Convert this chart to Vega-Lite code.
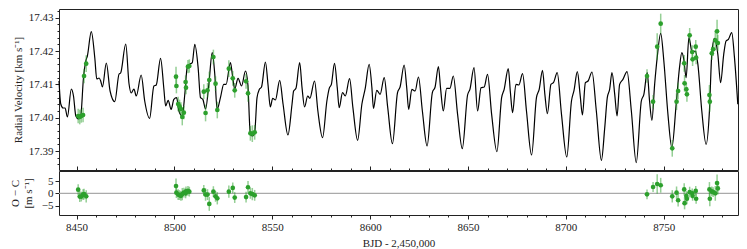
{
"$schema": "https://vega.github.io/schema/vega-lite/v6.json",
"background": "white",
"padding": {"left": 8, "top": 8, "right": 8, "bottom": 4},
"spacing": -3,
"config": {"font": "Liberation Serif", "view": {"stroke": "#222", "strokeWidth": 1},
  "axis": {"labelFont": "Liberation Serif", "titleFont": "Liberation Serif", "labelFontSize": 11, "titleFontSize": 11, "titleFontWeight": "normal", "labelColor": "#222", "titleColor": "#222", "tickColor": "#222", "domain": false, "grid": false}},
"datasets": {
"model": [
{"t":8441.0,"v":17.4110},{"t":8441.9,"v":17.4041},{"t":8443.1,"v":17.4029},{"t":8444.1,"v":17.4029},{"t":8445.3,"v":17.4002},{"t":8447.3,"v":17.4086},{"t":8448.4,"v":17.4065},{"t":8449.6,"v":17.4005},{"t":8450.9,"v":17.3996},{"t":8452.1,"v":17.4005},{"t":8453.5,"v":17.4119},{"t":8454.7,"v":17.4170},{"t":8455.5,"v":17.4185},{"t":8457.5,"v":17.4258},{"t":8459.3,"v":17.4179},{"t":8460.3,"v":17.4116},{"t":8461.5,"v":17.4119},{"t":8462.3,"v":17.4110},{"t":8463.2,"v":17.4092},{"t":8465.2,"v":17.4164},{"t":8467.1,"v":17.4080},{"t":8469.5,"v":17.4048},{"t":8471.7,"v":17.4131},{"t":8472.5,"v":17.4134},{"t":8475.1,"v":17.4221},{"t":8476.8,"v":17.4101},{"t":8477.9,"v":17.4074},{"t":8479.3,"v":17.4086},{"t":8480.5,"v":17.4065},{"t":8483.0,"v":17.4128},{"t":8484.8,"v":17.4050},{"t":8487.3,"v":17.3998},{"t":8489.5,"v":17.4095},{"t":8490.7,"v":17.4098},{"t":8492.9,"v":17.4178},{"t":8494.6,"v":17.4086},{"t":8495.5,"v":17.4035},{"t":8496.8,"v":17.4052},{"t":8498.3,"v":17.4025},{"t":8499.7,"v":17.4055},{"t":8501.1,"v":17.4060},{"t":8502.3,"v":17.4020},{"t":8504.0,"v":17.4005},{"t":8505.3,"v":17.4071},{"t":8506.5,"v":17.4150},{"t":8507.7,"v":17.4160},{"t":8509.1,"v":17.4165},{"t":8510.4,"v":17.4220},{"t":8512.1,"v":17.4150},{"t":8513.3,"v":17.4060},{"t":8514.5,"v":17.4055},{"t":8515.9,"v":17.4026},{"t":8517.6,"v":17.4101},{"t":8519.3,"v":17.4195},{"t":8520.6,"v":17.4131},{"t":8521.8,"v":17.4025},{"t":8523.5,"v":17.4060},{"t":8525.2,"v":17.4100},{"t":8526.4,"v":17.4100},{"t":8528.6,"v":17.4165},{"t":8529.8,"v":17.4120},{"t":8530.8,"v":17.4086},{"t":8532.5,"v":17.4118},{"t":8534.3,"v":17.4095},{"t":8536.3,"v":17.4140},{"t":8537.5,"v":17.4101},{"t":8538.8,"v":17.3950},{"t":8540.0,"v":17.3945},{"t":8541.0,"v":17.3955},{"t":8542.2,"v":17.4060},{"t":8543.4,"v":17.4085},{"t":8544.5,"v":17.4092},{"t":8546.5,"v":17.4167},{"t":8547.8,"v":17.4100},{"t":8549.0,"v":17.4032},{"t":8550.2,"v":17.4058},{"t":8551.6,"v":17.4053},{"t":8553.8,"v":17.4112},{"t":8555.5,"v":17.4041},{"t":8558.0,"v":17.3948},{"t":8560.1,"v":17.4041},{"t":8560.9,"v":17.4080},{"t":8562.1,"v":17.4088},{"t":8564.0,"v":17.4165},{"t":8565.2,"v":17.4090},{"t":8566.5,"v":17.4032},{"t":8568.1,"v":17.4065},{"t":8569.2,"v":17.4058},{"t":8571.6,"v":17.4110},{"t":8573.3,"v":17.4020},{"t":8575.7,"v":17.3940},{"t":8577.9,"v":17.4050},{"t":8579.1,"v":17.4088},{"t":8580.2,"v":17.4100},{"t":8581.8,"v":17.4163},{"t":8583.2,"v":17.4090},{"t":8584.2,"v":17.4030},{"t":8585.9,"v":17.4075},{"t":8587.3,"v":17.4065},{"t":8589.5,"v":17.4117},{"t":8591.2,"v":17.4030},{"t":8593.6,"v":17.3932},{"t":8595.8,"v":17.4041},{"t":8597.5,"v":17.4088},{"t":8599.5,"v":17.4160},{"t":8600.9,"v":17.4090},{"t":8601.7,"v":17.4028},{"t":8603.4,"v":17.4082},{"t":8605.1,"v":17.4070},{"t":8607.2,"v":17.4120},{"t":8609.0,"v":17.4030},{"t":8611.4,"v":17.3922},{"t":8614.0,"v":17.4075},{"t":8615.3,"v":17.4092},{"t":8617.4,"v":17.4158},{"t":8618.7,"v":17.4090},{"t":8619.7,"v":17.4025},{"t":8621.3,"v":17.4085},{"t":8623.0,"v":17.4080},{"t":8624.7,"v":17.4122},{"t":8626.7,"v":17.4020},{"t":8629.1,"v":17.3915},{"t":8631.8,"v":17.4075},{"t":8633.2,"v":17.4092},{"t":8634.9,"v":17.4153},{"t":8636.0,"v":17.4088},{"t":8637.4,"v":17.4020},{"t":8639.1,"v":17.4088},{"t":8640.8,"v":17.4088},{"t":8642.5,"v":17.4125},{"t":8644.7,"v":17.4010},{"t":8647.1,"v":17.3907},{"t":8649.8,"v":17.4068},{"t":8651.0,"v":17.4085},{"t":8653.1,"v":17.4150},{"t":8654.9,"v":17.4020},{"t":8656.7,"v":17.4090},{"t":8658.3,"v":17.4092},{"t":8660.0,"v":17.4130},{"t":8662.1,"v":17.4010},{"t":8664.8,"v":17.3898},{"t":8667.2,"v":17.4060},{"t":8668.5,"v":17.4085},{"t":8670.6,"v":17.4147},{"t":8671.7,"v":17.4075},{"t":8672.8,"v":17.4015},{"t":8674.5,"v":17.4100},{"t":8676.0,"v":17.4098},{"t":8677.9,"v":17.4132},{"t":8679.9,"v":17.4020},{"t":8682.5,"v":17.3888},{"t":8685.0,"v":17.4060},{"t":8686.4,"v":17.4085},{"t":8688.1,"v":17.4142},{"t":8689.3,"v":17.4070},{"t":8690.6,"v":17.4012},{"t":8692.4,"v":17.4100},{"t":8693.7,"v":17.4105},{"t":8695.6,"v":17.4135},{"t":8697.8,"v":17.4010},{"t":8700.5,"v":17.3882},{"t":8702.9,"v":17.4050},{"t":8704.2,"v":17.4082},{"t":8705.9,"v":17.4138},{"t":8707.3,"v":17.4070},{"t":8708.5,"v":17.4008},{"t":8710.0,"v":17.4105},{"t":8711.4,"v":17.4110},{"t":8713.4,"v":17.4137},{"t":8715.6,"v":17.4020},{"t":8718.2,"v":17.3872},{"t":8719.9,"v":17.3970},{"t":8721.2,"v":17.4060},{"t":8722.4,"v":17.4085},{"t":8723.6,"v":17.4135},{"t":8725.0,"v":17.4070},{"t":8726.2,"v":17.4005},{"t":8727.5,"v":17.4100},{"t":8729.2,"v":17.4115},{"t":8731.3,"v":17.4138},{"t":8733.5,"v":17.4020},{"t":8736.0,"v":17.3865},{"t":8738.6,"v":17.4050},{"t":8739.9,"v":17.4070},{"t":8741.6,"v":17.4135},{"t":8742.8,"v":17.4050},{"t":8744.0,"v":17.3992},{"t":8745.4,"v":17.4100},{"t":8746.7,"v":17.4180},{"t":8748.5,"v":17.4253},{"t":8750.1,"v":17.4170},{"t":8752.2,"v":17.4010},{"t":8754.2,"v":17.3910},{"t":8756.4,"v":17.4040},{"t":8758.1,"v":17.4150},{"t":8759.3,"v":17.4195},{"t":8760.3,"v":17.4175},{"t":8761.5,"v":17.4120},{"t":8762.9,"v":17.4240},{"t":8764.6,"v":17.4195},{"t":8766.1,"v":17.4200},{"t":8767.5,"v":17.4160},{"t":8769.5,"v":17.4020},{"t":8771.7,"v":17.3920},{"t":8773.4,"v":17.4020},{"t":8774.6,"v":17.4190},{"t":8776.0,"v":17.4238},{"t":8777.7,"v":17.4190},{"t":8779.1,"v":17.4105},{"t":8780.7,"v":17.4190},{"t":8781.9,"v":17.4230},{"t":8783.1,"v":17.4235},{"t":8784.8,"v":17.4255},{"t":8786.2,"v":17.4180},{"t":8787.9,"v":17.4040}
],
"obs": [
{"t":8450.8,"rv":17.4005,"e":0.0022,"res":1.5,"re":2.2},
{"t":8451.6,"rv":17.4002,"e":0.0022,"res":-1.3,"re":2.2},
{"t":8452.4,"rv":17.4005,"e":0.002,"res":-1.3,"re":2.0},
{"t":8453.3,"rv":17.4008,"e":0.0022,"res":-0.5,"re":2.2},
{"t":8453.8,"rv":17.4125,"e":0.0022,"res":-0.3,"re":2.2},
{"t":8454.9,"rv":17.4162,"e":0.0025,"res":-1.2,"re":2.5},
{"t":8500.8,"rv":17.4123,"e":0.003,"res":3.0,"re":3.0},
{"t":8501.0,"rv":17.4095,"e":0.0022,"res":0.3,"re":2.2},
{"t":8501.9,"rv":17.4041,"e":0.0022,"res":-0.5,"re":2.2},
{"t":8502.6,"rv":17.4034,"e":0.002,"res":-0.7,"re":2.0},
{"t":8503.3,"rv":17.4026,"e":0.002,"res":-1.0,"re":2.0},
{"t":8504.0,"rv":17.4002,"e":0.0025,"res":-0.3,"re":2.5},
{"t":8504.8,"rv":17.4015,"e":0.002,"res":0.3,"re":2.0},
{"t":8505.7,"rv":17.4107,"e":0.002,"res":0.0,"re":2.0},
{"t":8505.9,"rv":17.4090,"e":0.002,"res":0.8,"re":2.0},
{"t":8506.9,"rv":17.4153,"e":0.002,"res":1.0,"re":2.0},
{"t":8507.6,"rv":17.4155,"e":0.002,"res":0.7,"re":2.0},
{"t":8515.0,"rv":17.4078,"e":0.0022,"res":1.2,"re":2.2},
{"t":8515.9,"rv":17.4014,"e":0.0025,"res":-0.5,"re":2.5},
{"t":8516.9,"rv":17.4082,"e":0.0022,"res":-0.5,"re":2.2},
{"t":8517.8,"rv":17.4113,"e":0.0025,"res":-4.3,"re":2.8},
{"t":8519.9,"rv":17.4182,"e":0.0022,"res":0.7,"re":2.2},
{"t":8521.0,"rv":17.4102,"e":0.0022,"res":-1.2,"re":2.2},
{"t":8521.9,"rv":17.4023,"e":0.0025,"res":-2.0,"re":2.5},
{"t":8527.8,"rv":17.4147,"e":0.0025,"res":0.7,"re":2.5},
{"t":8529.8,"rv":17.4118,"e":0.0022,"res":2.2,"re":2.2},
{"t":8530.8,"rv":17.4082,"e":0.0022,"res":-1.7,"re":2.2},
{"t":8536.6,"rv":17.4109,"e":0.0022,"res":-1.5,"re":2.2},
{"t":8537.6,"rv":17.4073,"e":0.0025,"res":2.5,"re":2.5},
{"t":8538.8,"rv":17.3953,"e":0.0022,"res":0.0,"re":2.2},
{"t":8539.8,"rv":17.3952,"e":0.0025,"res":-0.3,"re":2.5},
{"t":8541.0,"rv":17.3956,"e":0.0022,"res":-0.8,"re":2.2},
{"t":8741.5,"rv":17.4125,"e":0.002,"res":-0.4,"re":2.0},
{"t":8744.6,"rv":17.4048,"e":0.002,"res":2.6,"re":2.0},
{"t":8746.7,"rv":17.4213,"e":0.004,"res":3.8,"re":4.0},
{"t":8748.5,"rv":17.4282,"e":0.003,"res":3.3,"re":3.0},
{"t":8754.4,"rv":17.3908,"e":0.0025,"res":-1.2,"re":2.5},
{"t":8756.6,"rv":17.4048,"e":0.0025,"res":0.3,"re":2.5},
{"t":8757.4,"rv":17.4080,"e":0.0025,"res":-2.8,"re":2.5},
{"t":8760.5,"rv":17.4163,"e":0.0025,"res":1.6,"re":2.5},
{"t":8760.7,"rv":17.4103,"e":0.0025,"res":-4.0,"re":2.5},
{"t":8761.6,"rv":17.4085,"e":0.002,"res":-1.1,"re":2.0},
{"t":8761.9,"rv":17.4070,"e":0.0022,"res":-2.2,"re":2.2},
{"t":8763.3,"rv":17.4247,"e":0.0022,"res":0.5,"re":2.2},
{"t":8764.6,"rv":17.4197,"e":0.002,"res":0.0,"re":2.0},
{"t":8764.8,"rv":17.4175,"e":0.002,"res":-1.0,"re":2.0},
{"t":8766.4,"rv":17.4213,"e":0.002,"res":1.0,"re":2.0},
{"t":8766.6,"rv":17.4180,"e":0.002,"res":-2.2,"re":2.0},
{"t":8773.4,"rv":17.4068,"e":0.003,"res":1.6,"re":3.0},
{"t":8773.6,"rv":17.4048,"e":0.003,"res":-2.2,"re":3.0},
{"t":8774.6,"rv":17.4193,"e":0.002,"res":0.8,"re":2.0},
{"t":8775.3,"rv":17.4205,"e":0.002,"res":0.5,"re":2.0},
{"t":8776.4,"rv":17.4232,"e":0.003,"res":0.0,"re":3.0},
{"t":8777.3,"rv":17.4259,"e":0.0035,"res":4.2,"re":3.5},
{"t":8777.7,"rv":17.4224,"e":0.0025,"res":2.0,"re":2.5}
]
},
"vconcat": [
{
 "width": 679, "height": 161,
 "layer": [
  {"data": {"name": "model"},
   "mark": {"type": "line", "color": "black", "strokeWidth": 1.2, "interpolate": "monotone"},
   "encoding": {
    "x": {"field": "t", "type": "quantitative", "scale": {"domain": [8441, 8788], "nice": false, "zero": false},
          "axis": {"orient": "bottom", "values": [8450, 8500, 8550, 8600, 8650, 8700, 8750], "labels": false, "title": null, "tickSize": -4}},
    "y": {"field": "v", "type": "quantitative", "scale": {"domain": [17.3843, 17.4326], "nice": false, "zero": false},
          "axis": {"orient": "left", "values": [17.39, 17.40, 17.41, 17.42, 17.43], "format": ".2f", "tickSize": 4, "labelPadding": 2, "title": "Radial Velocity [km s⁻¹]", "titlePadding": 5}}
   }},
  {"data": {"name": "obs"},
   "mark": {"type": "errorbar", "color": "#2ca02c", "opacity": 0.5, "thickness": 1.5},
   "encoding": {
    "x": {"field": "t", "type": "quantitative", "axis": {"orient": "bottom", "values": [8450,8460,8470,8480,8490,8500,8510,8520,8530,8540,8550,8560,8570,8580,8590,8600,8610,8620,8630,8640,8650,8660,8670,8680,8690,8700,8710,8720,8730,8740,8750,8760,8770,8780], "labels": false, "title": null, "tickSize": -2}},
    "y": {"field": "rv", "type": "quantitative", "axis": {"orient": "left", "values": [17.386,17.388,17.390,17.392,17.394,17.396,17.398,17.400,17.402,17.404,17.406,17.408,17.410,17.412,17.414,17.416,17.418,17.420,17.422,17.424,17.426,17.428,17.430,17.432], "labels": false, "title": null, "tickSize": 2}},
    "yError": {"field": "e"}
   }},
  {"data": {"name": "obs"},
   "mark": {"type": "point", "filled": true, "color": "#2ca02c", "size": 22, "opacity": 1},
   "encoding": {
    "x": {"field": "t", "type": "quantitative", "axis": null},
    "y": {"field": "rv", "type": "quantitative", "axis": null}
   }}
 ],
 "resolve": {"axis": {"x": "independent", "y": "independent"}}
},
{
 "width": 679, "height": 44,
 "layer": [
  {"data": {"values": [{"z": 0}]},
   "mark": {"type": "rule", "color": "#aaaaaa", "strokeWidth": 1.2},
   "encoding": {"y": {"field": "z", "type": "quantitative", "axis": null}}},
  {"data": {"name": "obs"},
   "mark": {"type": "errorbar", "color": "#2ca02c", "opacity": 0.5, "thickness": 1.5},
   "encoding": {
    "x": {"field": "t", "type": "quantitative", "axis": {"orient": "bottom", "values": [8450,8460,8470,8480,8490,8500,8510,8520,8530,8540,8550,8560,8570,8580,8590,8600,8610,8620,8630,8640,8650,8660,8670,8680,8690,8700,8710,8720,8730,8740,8750,8760,8770,8780], "labels": false, "title": null, "tickSize": 2}},
    "y": {"field": "res", "type": "quantitative", "axis": null},
    "yError": {"field": "re"}
   }},
  {"data": {"name": "obs"},
   "mark": {"type": "point", "filled": true, "color": "#2ca02c", "size": 22, "opacity": 1},
   "encoding": {
    "x": {"field": "t", "type": "quantitative", "scale": {"domain": [8441, 8788], "nice": false, "zero": false},
          "axis": {"orient": "bottom", "values": [8450, 8500, 8550, 8600, 8650, 8700, 8750], "format": "d", "tickSize": 4, "labelPadding": 2, "title": "BJD - 2,450,000", "titlePadding": 5}},
    "y": {"field": "res", "type": "quantitative", "scale": {"domain": [-8.8, 9.1], "nice": false, "zero": false},
          "axis": {"orient": "left", "values": [-5, 0, 5], "tickSize": 4, "labelPadding": 2, "title": ["O − C", "[m s⁻¹]"], "titlePadding": 8}}
   }}
 ],
 "resolve": {"axis": {"x": "independent", "y": "independent"}}
}
]
}
